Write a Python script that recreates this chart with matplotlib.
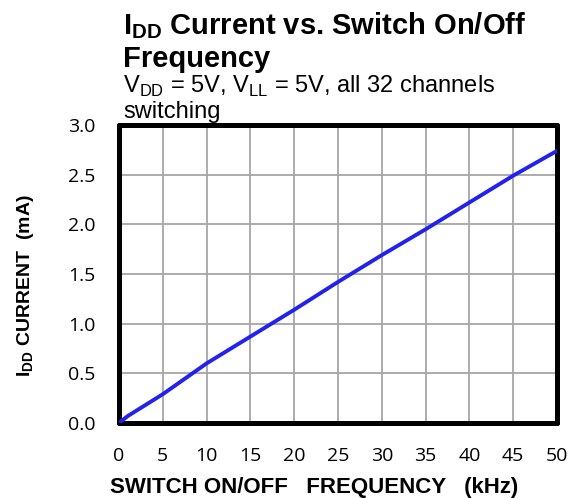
import matplotlib
matplotlib.use("Agg")
import matplotlib.pyplot as plt

# data
freq_khz = [0, 1, 5, 10, 15, 20, 25, 30, 35, 40, 45, 50]
idd_ma = [0, 0.07, 0.29, 0.60, 0.87, 1.14, 1.42, 1.69, 1.95, 2.22, 2.49, 2.74]
x_ticks = [0, 5, 10, 15, 20, 25, 30, 35, 40, 45, 50]
y_ticks = [0.0, 0.5, 1.0, 1.5, 2.0, 2.5, 3.0]

plt.rcParams['mathtext.fontset'] = 'custom'
plt.rcParams['mathtext.rm'] = 'Liberation Sans'
plt.rcParams['mathtext.bf'] = 'Liberation Sans:bold'

W, H = 573, 498
fig = plt.figure(figsize=(W / 100, H / 100), dpi=100)
ax = fig.add_axes([119 / W, 1 - 423 / H, (557 - 119) / W, (423 - 125) / H])

ax.plot(freq_khz, idd_ma, color='#2222ee', lw=2.8, solid_capstyle='round', zorder=3)

ax.set_xlim(0, 50)
ax.set_ylim(0, 3.0)
ax.set_xticks(x_ticks)
ax.set_yticks(y_ticks)
ax.set_xticklabels([str(v) for v in x_ticks], family='Open Sans', fontsize=14)
ax.set_yticklabels([f"{v:.1f}" for v in y_ticks], family='Open Sans', fontsize=14)
ax.tick_params(axis='x', length=0, pad=17)
ax.tick_params(axis='y', length=0, pad=17)
ax.grid(True, color='#a6a6a6', lw=1.3)
for s in ax.spines.values():
    s.set_linewidth(3.6)
    s.set_capstyle('round')

# axis titles
fig.text(314 / W, 1 - 493 / H, "SWITCH ON/OFF   FREQUENCY   (kHz)", family='Liberation Sans',
         fontweight='bold', fontsize=16, ha='center', va='baseline')
fig.text(26 / W, 1 - 286 / H, r"I$_{\mathbf{DD}}$ CURRENT  (mA)", family='Liberation Sans',
         fontweight='bold', fontsize=14, rotation=90, ha='center', va='center')

# chart title and subtitle
fig.text(123 / W, 1 - 34 / H, r"I$_{\mathbf{DD}}$ Current vs. Switch On/Off",
         family='Liberation Sans', fontweight='bold', fontsize=21, va='baseline')
fig.text(123 / W, 1 - 67 / H, "Frequency",
         family='Liberation Sans', fontweight='bold', fontsize=21, va='baseline')
fig.text(123 / W, 1 - 93 / H, r"V$_{\mathrm{DD}}$ = 5V, V$_{\mathrm{LL}}$ = 5V, all 32 channels",
         family='Liberation Sans', fontsize=17, va='baseline')
fig.text(123 / W, 1 - 118 / H, "switching",
         family='Liberation Sans', fontsize=17, va='baseline')

fig.savefig("out.png", dpi=100)
